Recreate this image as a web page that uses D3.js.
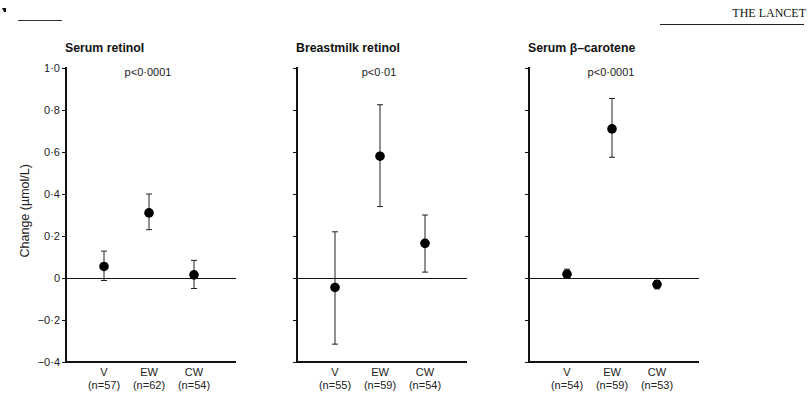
<!DOCTYPE html>
<html>
<head>
<meta charset="utf-8">
<title>Change in vitamin A status</title>
<script src="https://d3js.org/d3.v7.min.js"></script>
<style>
body { margin: 0; background: #fff; }
svg { display: block; font-family: "Liberation Sans", "DejaVu Sans", sans-serif; }
</style>
</head>
<body>
<script>
// data
const groups = ["V", "EW", "CW"];
const titles = ["Serum retinol", "Breastmilk retinol", "Serum \u03b2\u2013carotene"];
const pValues = ["p<0\u00b70001", "p<0\u00b701", "p<0\u00b70001"];
const nCounts = [[57, 62, 54], [55, 59, 54], [54, 59, 53]];
const means = [[0.055, 0.31, 0.015], [-0.045, 0.58, 0.165], [0.018, 0.71, -0.03]];
const lower = [[-0.012, 0.23, -0.05], [-0.315, 0.34, 0.028], [0.002, 0.575, -0.052]];
const upper = [[0.128, 0.40, 0.084], [0.22, 0.825, 0.30], [0.042, 0.855, -0.012]];
const yTicks = [-0.4, -0.2, 0, 0.2, 0.4, 0.6, 0.8, 1.0];

const w = 809, h = 395;
const svg = d3.select("body").append("svg").attr("width", w).attr("height", h);

// panel placement
const panelLeft = [66, 297, 529];
const panelWidth = 170;
const plotTop = 68, plotBottom = 362;

const y = d3.scaleLinear().domain([-0.4, 1.0]).range([plotBottom, plotTop]);
const fmt = d => d === 0 ? "0" : d3.format(".1f")(d).replace(".", "\u00b7");

// header bits
svg.append("path").attr("d", "M2,8 h4 v4 h-2 z").attr("fill", "#111");
svg.append("line").attr("x1", 18).attr("x2", 62).attr("y1", 20.5).attr("y2", 20.5)
  .attr("stroke", "#333").attr("stroke-width", 1);
svg.append("text").attr("x", 806).attr("y", 17).attr("text-anchor", "end")
  .style("font-family", "'Liberation Serif', 'DejaVu Serif', serif")
  .style("font-size", "12px").attr("fill", "#111").text("THE LANCET");
svg.append("line").attr("x1", 660).attr("x2", 804).attr("y1", 24.5).attr("y2", 24.5)
  .attr("stroke", "#222").attr("stroke-width", 1);

// y axis title
svg.append("text")
  .attr("transform", "translate(29," + y(0.32) + ") rotate(-90)")
  .attr("text-anchor", "middle")
  .style("font-size", "12.5px").attr("fill", "#222")
  .text("Change (\u00b5mol/L)");

titles.forEach((t, p) => {
  const g = svg.append("g").attr("transform", "translate(" + panelLeft[p] + ",0)");
  const x = d3.scalePoint().domain(groups).range([38, 128]);

  g.append("text").attr("x", -1).attr("y", 52)
    .style("font-size", "12.3px").style("font-weight", "bold").attr("fill", "#111")
    .text(t);
  g.append("text").attr("x", x("EW") - 1).attr("y", 76).attr("text-anchor", "middle")
    .style("font-size", "11px").attr("fill", "#222").text(pValues[p]);

  // y axis
  const ax = d3.axisLeft(y).tickValues(yTicks).tickSize(4).tickPadding(2)
    .tickFormat(p === 0 ? fmt : "");
  const ya = g.append("g").call(ax);
  ya.select(".domain").remove();
  ya.selectAll("line").attr("stroke", "#111");
  ya.selectAll("text").style("font-size", "11px").attr("fill", "#222");
  g.append("line").attr("x1", 0).attr("x2", 0).attr("y1", y(1.0) - 1).attr("y2", y(-0.4) + 1)
    .attr("stroke", "#111").attr("stroke-width", 2);

  // bottom axis and zero line
  g.append("line").attr("x1", 0).attr("x2", panelWidth).attr("y1", y(-0.4)).attr("y2", y(-0.4))
    .attr("stroke", "#111").attr("stroke-width", 2);
  g.append("line").attr("x1", 0).attr("x2", panelWidth)
    .attr("y1", Math.round(y(0)) + 0.5).attr("y2", Math.round(y(0)) + 0.5)
    .attr("stroke", "#111").attr("stroke-width", 1);

  // group labels
  const lab = g.selectAll(".lab").data(groups).enter().append("text")
    .attr("text-anchor", "middle").style("font-size", "11px").attr("fill", "#222");
  lab.append("tspan").attr("x", d => x(d)).attr("y", plotBottom + 14).text(d => d);
  lab.append("tspan").attr("x", d => x(d)).attr("y", plotBottom + 27)
    .text((d, i) => "(n=" + nCounts[p][i] + ")");

  // error bars
  const eb = g.selectAll(".eb").data(groups).enter().append("g").attr("stroke", "#222");
  eb.append("line").attr("x1", d => x(d)).attr("x2", d => x(d))
    .attr("y1", (d, i) => y(upper[p][i])).attr("y2", (d, i) => y(lower[p][i]));
  eb.append("line").attr("x1", d => x(d) - 3).attr("x2", d => x(d) + 3)
    .attr("y1", (d, i) => y(upper[p][i])).attr("y2", (d, i) => y(upper[p][i]));
  eb.append("line").attr("x1", d => x(d) - 3).attr("x2", d => x(d) + 3)
    .attr("y1", (d, i) => y(lower[p][i])).attr("y2", (d, i) => y(lower[p][i]));

  g.selectAll(".dot").data(groups).enter().append("circle")
    .attr("cx", d => x(d)).attr("cy", (d, i) => y(means[p][i]))
    .attr("r", 4.8).attr("fill", "#000");
});
</script>
</body>
</html>
